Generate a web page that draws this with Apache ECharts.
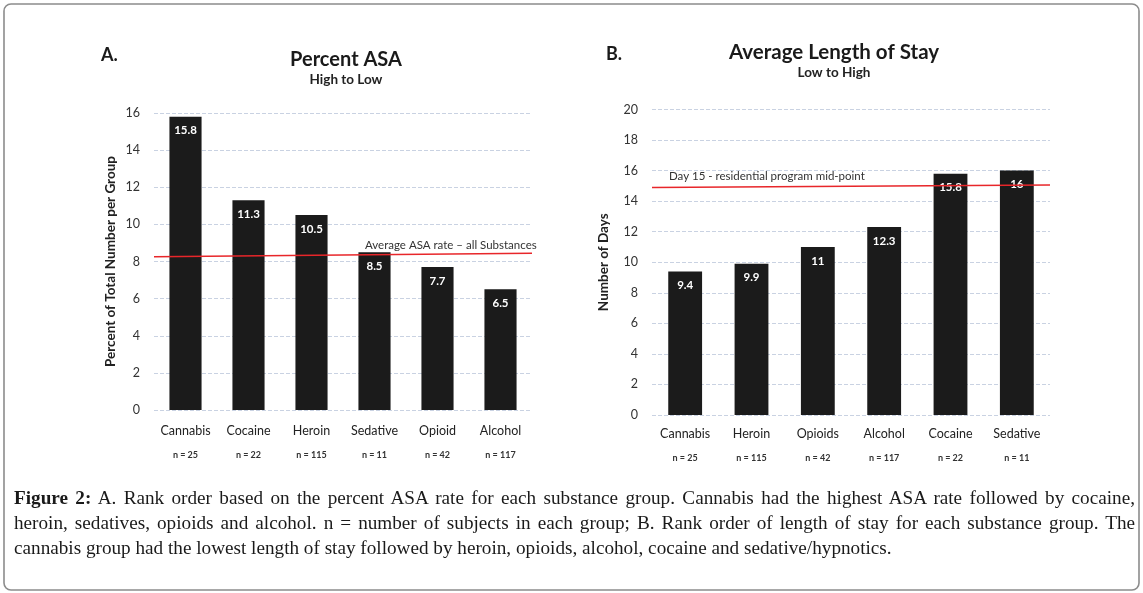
<!DOCTYPE html>
<html>
<head>
<meta charset="utf-8">
<script src="https://cdn.jsdelivr.net/npm/echarts@6/dist/echarts.min.js"></script>
<style>
  html, body { margin: 0; padding: 0; background: #fff; }
  #wrap { position: relative; width: 1143px; height: 593px; }
  #chart { position: absolute; left: 0; top: 0; width: 1143px; height: 593px; }
  #caption { position: absolute; left: 14px; top: 485px; width: 1121px; font-family: "Liberation Serif", "DejaVu Serif", serif; font-size: 19.2px; line-height: 25px; color: #1a1a1a; }
  #caption .j { text-align: justify; text-align-last: justify; }
  #caption b { font-weight: bold; }
</style>
</head>
<body>
<div id="wrap">
  <div id="chart"></div>
  <div id="caption">
    <div class="j"><b>Figure 2:</b> A. Rank order based on the percent ASA rate for each substance group. Cannabis had the highest ASA rate followed by cocaine,</div>
    <div class="j">heroin, sedatives, opioids and alcohol. n = number of subjects in each group; B. Rank order of length of stay for each substance group. The</div>
    <div>cannabis group had the lowest length of stay followed by heroin, opioids, alcohol, cocaine and sedative/hypnotics.</div>
  </div>
</div>
<script>
// ---- Data ----
const catsA = ['Cannabis', 'Cocaine', 'Heroin', 'Sedative', 'Opioid', 'Alcohol'];
const valsA = [15.8, 11.3, 10.5, 8.5, 7.7, 6.5];
const nA = [25, 22, 115, 11, 42, 117];
const refLineA = [8.25, 8.45];   // average ASA rate line (left end, right end)

const catsB = ['Cannabis', 'Heroin', 'Opioids', 'Alcohol', 'Cocaine', 'Sedative'];
const valsB = [9.4, 9.9, 11, 12.3, 15.8, 16];
const nB = [25, 115, 42, 117, 22, 11];
const refLineB = [14.9, 15.05];  // day 15 line

const yTicksA = { min: 0, max: 16, interval: 2 };
const yTicksB = { min: 0, max: 20, interval: 2 };

const FONT = 'Lato, "Open Sans", sans-serif';
const chart = echarts.init(document.getElementById('chart'));

function catAxis(gridIndex, cats, ns, margin) {
  return {
    type: 'category', gridIndex, data: cats,
    axisLine: { show: false }, axisTick: { show: false },
    axisLabel: {
      margin, interval: 0,
      formatter: (v, i) => '{c|' + v + '}\n{n|n = ' + ns[i] + '}',
      rich: {
        c: { fontFamily: FONT, fontSize: 12.5, color: '#222', lineHeight: 20 },
        n: { fontFamily: FONT, fontSize: 9, fontWeight: 'bold', color: '#333', lineHeight: 28 }
      }
    }
  };
}
function valAxis(gridIndex, t, name, gap) {
  return {
    type: 'value', gridIndex, min: t.min, max: t.max, interval: t.interval,
    name, nameLocation: 'middle', nameGap: gap,
    nameTextStyle: { fontFamily: FONT, fontSize: 13.5, fontWeight: 'bold', color: '#222' },
    axisLine: { show: false }, axisTick: { show: false },
    axisLabel: { fontFamily: FONT, fontSize: 12.5, color: '#333', margin: 14 },
    splitLine: { show: true, lineStyle: { color: '#c9d2e2', type: [4, 2], width: 1 } }
  };
}
function hiddenX(gridIndex) {
  return { type: 'value', gridIndex, min: 0, max: 1, show: false };
}
function barSeries(xi, yi, vals) {
  return {
    type: 'bar', xAxisIndex: xi, yAxisIndex: yi, data: vals,
    barWidth: '51%',
    itemStyle: { color: '#1b1b1b' },
    label: {
      show: true, position: 'insideTop', distance: 8,
      color: '#fff', fontFamily: FONT, fontWeight: 'bold', fontSize: 11.5
    }
  };
}
function refSeries(xi, yi, ends) {
  return {
    type: 'line', xAxisIndex: xi, yAxisIndex: yi,
    data: [[0, ends[0]], [1, ends[1]]],
    symbol: 'none', silent: true, z: 5,
    lineStyle: { color: '#e8262a', width: 1.5 }
  };
}

const option = {
  animation: false,
  backgroundColor: '#fff',
  textStyle: { fontFamily: FONT },
  title: [
    { text: 'A.', left: 96, top: 41, textStyle: { fontFamily: FONT, fontSize: 18, fontWeight: 'bold', color: '#1a1a1a' } },
    { text: 'Percent ASA', subtext: 'High to Low', left: 341, top: 45, textAlign: 'center', itemGap: 3,
      textStyle: { fontFamily: FONT, fontSize: 20, fontWeight: 'bold', color: '#1a1a1a' },
      subtextStyle: { fontFamily: FONT, fontSize: 13.5, fontWeight: 'bold', color: '#222' } },
    { text: 'B.', left: 601, top: 40, textStyle: { fontFamily: FONT, fontSize: 18, fontWeight: 'bold', color: '#1a1a1a' } },
    { text: 'Average Length of Stay', subtext: 'Low to High', left: 829, top: 37, textAlign: 'center', itemGap: 3,
      textStyle: { fontFamily: FONT, fontSize: 20.5, fontWeight: 'bold', color: '#1a1a1a' },
      subtextStyle: { fontFamily: FONT, fontSize: 13.5, fontWeight: 'bold', color: '#222' } }
  ],
  grid: [
    { left: 154, top: 113, width: 378, height: 297 },
    { left: 652, top: 109.5, width: 398, height: 305.5 }
  ],
  xAxis: [catAxis(0, catsA, nA, 11), catAxis(1, catsB, nB, 9), hiddenX(0), hiddenX(1)],
  yAxis: [valAxis(0, yTicksA, 'Percent of Total Number per Group', 36), valAxis(1, yTicksB, 'Number of Days', 41)],
  series: [
    barSeries(0, 0, valsA),
    barSeries(1, 1, valsB),
    refSeries(2, 0, refLineA),
    refSeries(3, 1, refLineB)
  ],
  graphic: [
    { type: 'text', left: 365, top: 239, z: 10,
      style: { text: 'Average ASA rate \u2013 all Substances', font: '11.5px ' + FONT, fill: '#333' } },
    { type: 'text', left: 669, top: 170, z: 10,
      style: { text: 'Day 15 - residential program mid-point', font: '11.5px ' + FONT, fill: '#333' } },
    { type: 'rect', shape: { x: 4, y: 4, width: 1135, height: 586, r: 7 }, z: -1, silent: true,
      style: { fill: 'none', stroke: '#8c8c8c', lineWidth: 1.6 } }
  ]
};
chart.setOption(option);
</script>
</body>
</html>
